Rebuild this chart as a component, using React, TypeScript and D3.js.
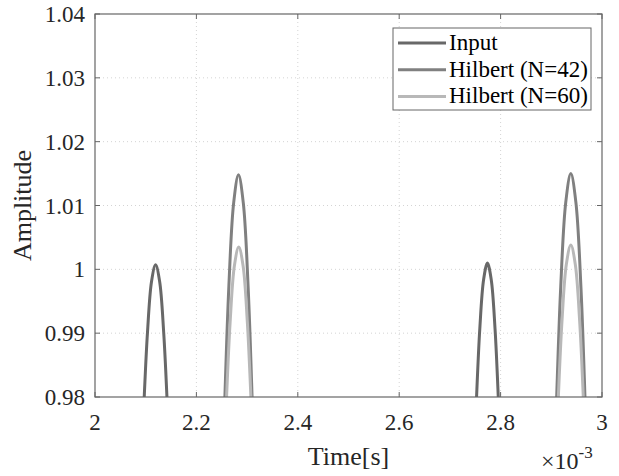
import React from "react";
import * as d3 from "d3";

// time in units of 1e-3 s
const inputX = [2.0935, 2.0971, 2.1035, 2.1115, 2.1195, 2.1275, 2.1355, 2.1419, 2.1455, NaN, 2.749, 2.7526, 2.759, 2.7665, 2.774, 2.7815, 2.789, 2.7954, 2.799];
const inputY = [0.9728, 0.98, 0.9901, 0.9981, 1.0007, 0.9981, 0.9901, 0.98, 0.9728, NaN, 0.9723, 0.98, 0.9907, 0.9984, 1.001, 0.9984, 0.9907, 0.98, 0.9723];
const h42X = [2.253, 2.2562, 2.264, 2.2735, 2.283, 2.2925, 2.302, 2.3098, 2.313, NaN, 2.9075, 2.9106, 2.9185, 2.9285, 2.9385, 2.9485, 2.9585, 2.9664, 2.9695];
const h42Y = [0.9712, 0.98, 0.9973, 1.0104, 1.0148, 1.0104, 0.9973, 0.98, 0.9712, NaN, 0.9721, 0.98, 0.9971, 1.0105, 1.015, 1.0105, 0.9971, 0.98, 0.9721];
const h60X = [2.2565, 2.2595, 2.2665, 2.275, 2.2835, 2.292, 2.3005, 2.3075, 2.3105, NaN, 2.9109, 2.9139, 2.921, 2.9297, 2.9385, 2.9473, 2.956, 2.9631, 2.9661];
const h60Y = [0.9738, 0.98, 0.9917, 1.0006, 1.0035, 1.0006, 0.9917, 0.98, 0.9738, NaN, 0.9738, 0.98, 0.9918, 1.0008, 1.0038, 1.0008, 0.9918, 0.98, 0.9738];

const xTicks = [2, 2.2, 2.4, 2.6, 2.8, 3];
const yTicks = [0.98, 0.99, 1, 1.01, 1.02, 1.03, 1.04];
const seriesNames = ["Input", "Hilbert (N=42)", "Hilbert (N=60)"];
const seriesColors = ["#686868", "#808080", "#b8b8b8"];

const W = 619, H = 476;
const L = 95, R = 602, T = 14, B = 397;

export default function App() {
  const x = d3.scaleLinear().domain([2, 3]).range([L, R]);
  const y = d3.scaleLinear().domain([0.98, 1.04]).range([B, T]);
  const series = [
    inputX.map((v, i) => [v, inputY[i]]),
    h42X.map((v, i) => [v, h42Y[i]]),
    h60X.map((v, i) => [v, h60Y[i]]),
  ];
  const line = d3
    .line<number[]>()
    .defined((d) => !isNaN(d[0]))
    .x((d) => x(d[0]))
    .y((d) => y(d[1]))
    .curve(d3.curveCatmullRom.alpha(0.5));
  const font = "'Liberation Serif', 'Times New Roman', serif";
  const axisColor = "#666666";
  const textColor = "#262626";
  return (
    <svg width={W} height={H} style={{ position: "absolute", left: 0, top: 0 }} fontFamily={font}>
      <rect x={0} y={0} width={W} height={H} fill="#fff" />
      <defs>
        <clipPath id="plot">
          <rect x={L} y={T} width={R - L} height={B - T} />
        </clipPath>
      </defs>
      {/* grid */}
      {xTicks.slice(1, -1).map((t) => (
        <line key={"gx" + t} x1={x(t)} x2={x(t)} y1={T} y2={B} stroke="#d4d4d4" strokeWidth={1} strokeDasharray="1,3" />
      ))}
      {yTicks.slice(1, -1).map((t) => (
        <line key={"gy" + t} x1={L} x2={R} y1={y(t)} y2={y(t)} stroke="#d4d4d4" strokeWidth={1} strokeDasharray="1,3" />
      ))}
      {/* data */}
      <g clipPath="url(#plot)">
        {series.map((s, i) => (
          <path key={i} d={line(s) || ""} fill="none" stroke={seriesColors[i]} strokeWidth={3} />
        ))}
      </g>
      {/* box */}
      <rect x={L} y={T} width={R - L} height={B - T} fill="none" stroke={axisColor} strokeWidth={1.2} />
      {xTicks.map((t) => (
        <g key={"tx" + t}>
          <line x1={x(t)} x2={x(t)} y1={B} y2={B - 5} stroke={axisColor} />
          <line x1={x(t)} x2={x(t)} y1={T} y2={T + 5} stroke={axisColor} />
          <text x={x(t)} y={B + 33} textAnchor="middle" fontSize={23} fill={textColor}>
            {String(t)}
          </text>
        </g>
      ))}
      {yTicks.map((t) => (
        <g key={"ty" + t}>
          <line x1={L} x2={L + 5} y1={y(t)} y2={y(t)} stroke={axisColor} />
          <line x1={R} x2={R - 5} y1={y(t)} y2={y(t)} stroke={axisColor} />
          <text x={L - 10} y={y(t) + 8} textAnchor="end" fontSize={23} fill={textColor}>
            {String(t)}
          </text>
        </g>
      ))}
      <text x={(L + R) / 2} y={465} textAnchor="middle" fontSize={26} fill={textColor}>
        Time[s]
      </text>
      <text transform={`translate(31,${(T + B) / 2}) rotate(-90)`} textAnchor="middle" fontSize={26} fill={textColor}>
        Amplitude
      </text>
      <text x={541} y={469} fontSize={24} fill={textColor}>
        ×10
        <tspan dy={-11} fontSize={17}>-3</tspan>
      </text>
      {/* legend */}
      <rect x={393} y={28} width={198} height={82} fill="#fff" stroke={axisColor} strokeWidth={1} />
      {seriesNames.map((n, i) => (
        <g key={n}>
          <line x1={398} x2={446} y1={43 + i * 26.7} y2={43 + i * 26.7} stroke={seriesColors[i]} strokeWidth={3} />
          <text x={449} y={43 + i * 26.7 + 7} fontSize={23} fill="#000">
            {n}
          </text>
        </g>
      ))}
    </svg>
  );
}
